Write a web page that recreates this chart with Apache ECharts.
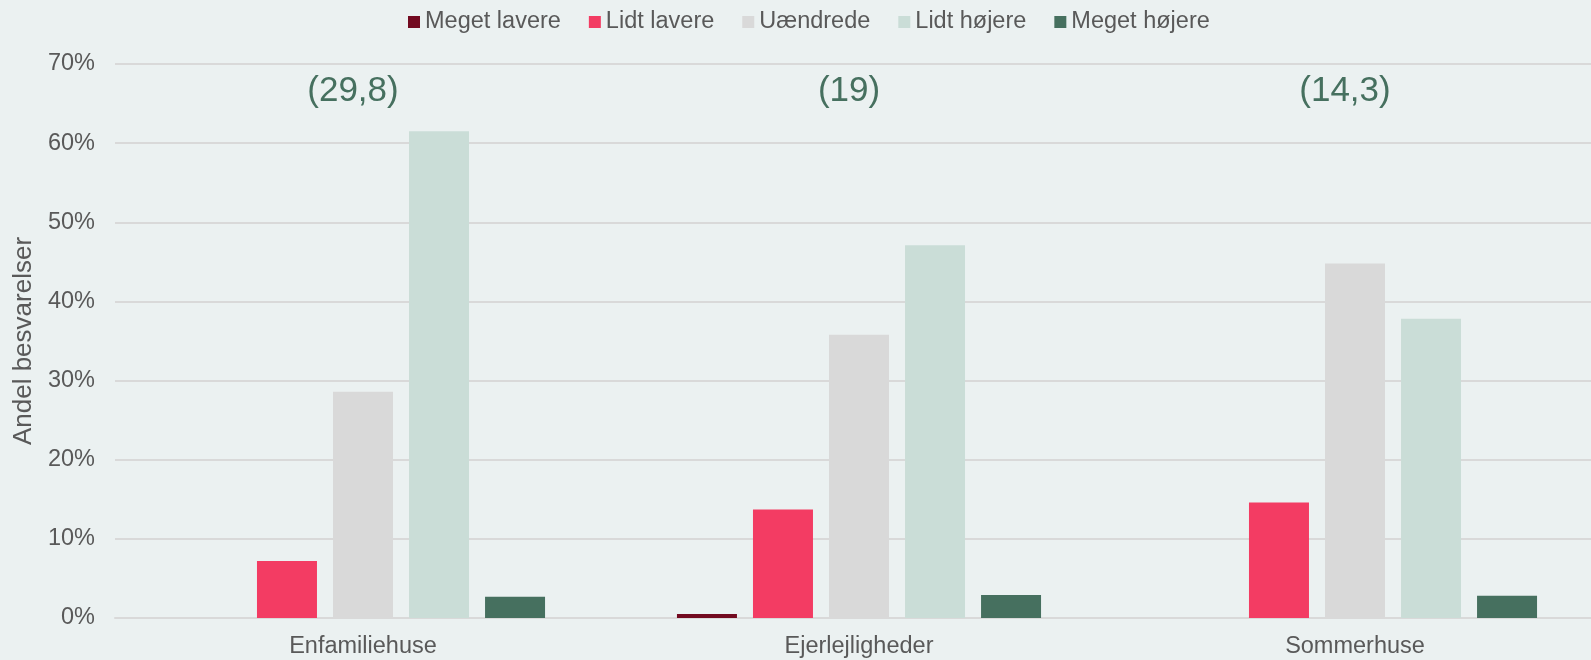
<!DOCTYPE html>
<html>
<head>
<meta charset="utf-8">
<script src="https://cdn.jsdelivr.net/npm/echarts@6/dist/echarts.min.js"></script>
<style>
  html, body { margin: 0; padding: 0; background: #EBF1F1; }
  #chart { width: 1591px; height: 660px; }
</style>
</head>
<body>
<div id="chart"></div>
<script>
// boligtyper og svarfordeling (andel i %)
var categories = ['Enfamiliehuse', 'Ejerlejligheder', 'Sommerhuse'];
var megetLavere = [0, 0.5, 0];
var lidtLavere = [7.2, 13.7, 14.6];
var uaendrede = [28.6, 35.8, 44.8];
var lidtHojere = [61.5, 47.1, 37.8];
var megetHojere = [2.7, 2.9, 2.8];
// tal i parentes over hver gruppe
var notes = ['(29,8)', '(19)', '(14,3)'];
var noteLevel = [66.6, 66.6, 66.6];
var yTicks = [0, 10, 20, 30, 40, 50, 60, 70];

var font = '"Liberation Sans", Arial, sans-serif';
var textGrey = '#595959';

var myChart = echarts.init(document.getElementById('chart'));

function barSeries(name, data, color) {
    return {
        name: name,
        type: 'bar',
        data: data,
        barWidth: 60,
        barGap: '26.7%',
        itemStyle: { color: color }
    };
}

option = {
    animation: false,
    backgroundColor: '#EBF1F1',
    textStyle: { fontFamily: font },
    legend: {
        data: ['Meget lavere', 'Lidt lavere', 'Uændrede', 'Lidt højere', 'Meget højere'],
        left: 403,
        top: 5,
        itemWidth: 12,
        itemHeight: 12,
        itemGap: 28,
        icon: 'rect',
        textStyle: { color: textGrey, fontSize: 23.5, fontFamily: font }
    },
    grid: {
        left: 115,
        top: 64,
        width: 1488,
        height: 554,
        outerBoundsMode: 'none',
        containLabel: false
    },
    xAxis: {
        type: 'category',
        data: categories,
        axisTick: { show: false },
        axisLine: { lineStyle: { color: '#D9D9D9', width: 2 } },
        axisLabel: { color: textGrey, fontSize: 23.5, fontFamily: font, margin: 17 }
    },
    yAxis: {
        type: 'value',
        min: yTicks[0],
        max: yTicks[yTicks.length - 1],
        interval: 10,
        name: 'Andel besvarelser',
        nameLocation: 'middle',
        nameGap: 73,
        nameTextStyle: { color: textGrey, fontSize: 26, fontFamily: font },
        axisLine: { show: false },
        axisTick: { show: false },
        axisLabel: { color: textGrey, fontSize: 23.5, fontFamily: font, margin: 20, formatter: '{value}%' },
        splitLine: { lineStyle: { color: '#D9D9D9', width: 2 } }
    },
    series: [
        barSeries('Meget lavere', megetLavere, '#720A20'),
        barSeries('Lidt lavere', lidtLavere, '#F33C63'),
        barSeries('Uændrede', uaendrede, '#D9D9D9'),
        barSeries('Lidt højere', lidtHojere, '#CADDD7'),
        barSeries('Meget højere', megetHojere, '#46705F'),
        {
            name: 'noter',
            type: 'scatter',
            symbolSize: 0,
            silent: true,
            itemStyle: { opacity: 1 },
            data: noteLevel.map(function (v, i) { return [categories[i], v]; }),
            label: {
                show: true,
                position: 'inside',
                offset: [-10, 0],
                color: '#46705F',
                opacity: 1,
                fontSize: 35,
                fontFamily: font,
                formatter: function (p) { return notes[p.dataIndex]; }
            }
        }
    ]
};
myChart.setOption(option);
</script>
</body>
</html>
